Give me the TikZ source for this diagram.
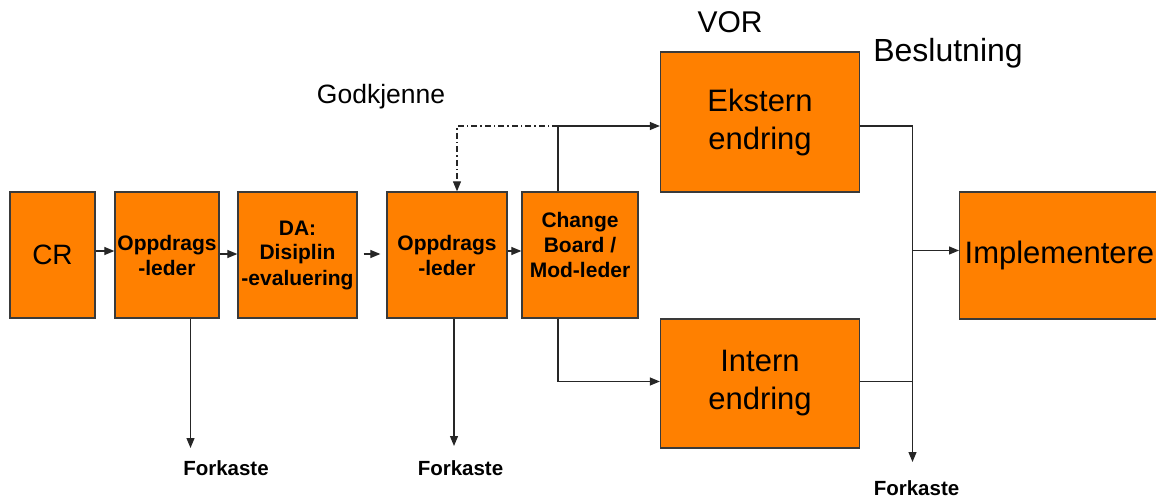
\documentclass[tikz,border=0pt]{standalone}
\usepackage{fontspec}
\setmainfont{Liberation Sans}
\usetikzlibrary{arrows.meta}
\definecolor{boxorange}{HTML}{FF8000}
\definecolor{boxedge}{HTML}{3A3A3A}

\begin{document}
\begin{tikzpicture}[x=1pt,y=-1pt,
  box/.style={draw=boxedge, line width=1.3pt, fill=boxorange, inner sep=0pt, align=center},
  big/.style={font=\fontsize{31}{38}\selectfont},
  bold/.style={font=\bfseries\fontsize{21}{25}\selectfont},
  flow/.style={draw=black!85, line width=1.2pt, -{Triangle[length=10pt,width=8pt]}},
  link/.style={draw=black!85, line width=1.2pt},
  dashdot/.style={draw=black!85, line width=1.1pt, dash pattern=on 6pt off 3pt on 1.5pt off 3pt,
                  -{Triangle[length=10pt,width=8pt]}},
  reject/.style={font=\bfseries\fontsize{20.5}{24}\selectfont, anchor=base, inner sep=0pt},
  lab/.style={anchor=base, inner sep=0pt}
]
\useasboundingbox (0,0) rectangle (1156,497);
\clip (0,0) rectangle (1156,497);

% process boxes
\node[box, minimum width=85, minimum height=126, font=\fontsize{28}{34}\selectfont] (cr) at (52.5,255) {CR};
\node[box, bold, minimum width=104, minimum height=126] (opp1) at (167,255) {Oppdrags\\-leder};
\node[box, bold, minimum width=119, minimum height=126] (da) at (297.5,255) {DA:\\Disiplin\\-evaluering};
\node[box, bold, minimum width=120, minimum height=126] (opp2) at (447,255) {Oppdrags\\-leder};
\node[box, bold, minimum width=116, minimum height=126] (cb) at (580,255) {Change\\Board /\\Mod-leder\\[-5pt]\mbox{}};
\node[box, big, minimum width=199, minimum height=140] (ekst) at (760,122) {Ekstern\\endring};
\node[box, big, minimum width=199, minimum height=129] (intern) at (760,383.5) {Intern\\endring};
\node[box, big, anchor=west, text width=200, inner xsep=5pt, align=left, minimum height=127] (impl) at (959,255.5) {Implementere};

% free labels
\node[lab, font=\fontsize{30}{36}\selectfont] (vor) at (730,33) {VOR};
\node[lab, font=\fontsize{32}{38}\selectfont] (besl) at (948,62) {Beslutning};
\node[lab, font=\fontsize{26.5}{32}\selectfont] (godk) at (381,104) {Godkjenne};
\node[reject] (fk1) at (226,475) {Forkaste};
\node[reject] (fk2) at (460.5,475) {Forkaste};
\node[reject] (fk3) at (916.5,495) {Forkaste};

% junction points
\coordinate (up) at (558,126);
\coordinate (dn) at (558,381.5);
\coordinate (gk) at (457,126);
\coordinate (m1) at (912.5,126);
\coordinate (m2) at (912.5,381.5);
\coordinate (m3) at (912.5,250.5);
\coordinate (d1) at (190.5,448);
\coordinate (d2) at (454,446);
\coordinate (d3) at (912.5,462);

% main flow
\draw[flow] ([yshift=4pt]cr.east) -- ([yshift=4pt]opp1.west);
\draw[flow] ([yshift=1pt]opp1.east) -- ([yshift=1pt]da.west);
\draw[flow] ([xshift=6pt,yshift=1pt]da.east) -- ([xshift=-6pt,yshift=1pt]opp2.west);
\draw[flow] ([yshift=4pt]opp2.east) -- ([yshift=4pt]cb.west);

% branches from the change board
\draw[flow] (cb.north -| up) -- (up) -- (up -| ekst.west);
\draw[flow] (cb.south -| dn) -- (dn) -- (dn -| intern.west);
\draw[dashdot] (up) -- (gk) -- (gk |- opp2.north);

% decision bus
\draw[flow] (ekst.east |- m1) -- (m1) -- (d3);
\draw[link] (intern.east |- m2) -- (m2);
\draw[flow] (m3) -- (m3 -| impl.west);

% rejections
\draw[flow] (opp1.south -| d1) -- (d1);
\draw[flow] (opp2.south -| d2) -- (d2);
\end{tikzpicture}
\end{document}
